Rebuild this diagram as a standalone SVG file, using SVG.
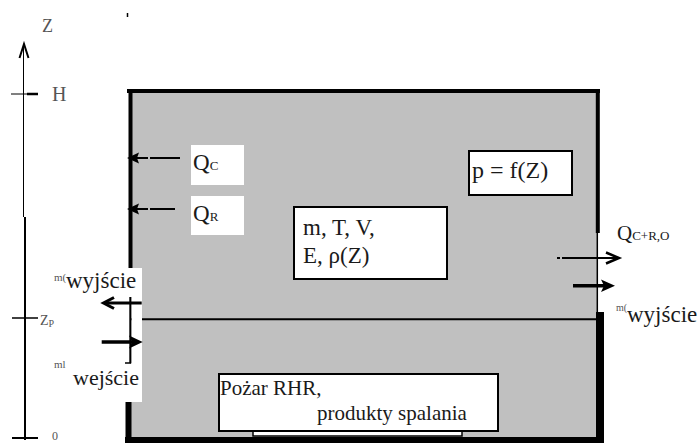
<svg xmlns="http://www.w3.org/2000/svg" width="699" height="443" viewBox="0 0 699 443">
<style>
.t{font-family:"Liberation Serif","Times New Roman",serif;fill:#1a1a1a}
.g{fill:#555}
.w{stroke:#000;fill:none}
.box{fill:#fff;stroke:#000;stroke-width:2}
</style>
<rect width="699" height="443" fill="#fff"/>
<g id="room">
<rect x="130" y="91" width="468" height="348" fill="#c0c0c0"/>
<line class="w" x1="127" y1="91" x2="600" y2="91" stroke-width="4"/>
<line class="w" x1="130.5" y1="89" x2="130.5" y2="268" stroke-width="4"/>
<line class="w" x1="125" y1="363" x2="131" y2="363" stroke-width="1.5"/>
<line class="w" x1="128.5" y1="402" x2="128.5" y2="443" stroke-width="6"/>
<line class="w" x1="125" y1="440" x2="604" y2="440" stroke-width="6"/>
<line class="w" x1="597.8" y1="89" x2="597.8" y2="233" stroke-width="4"/>
<line class="w" x1="597.3" y1="233" x2="597.3" y2="312" stroke-width="1.5"/>
<line class="w" x1="600" y1="312" x2="600" y2="443" stroke-width="8"/>
<line class="w" x1="130" y1="319.3" x2="597" y2="319.3" stroke-width="2"/>
<rect x="253" y="431" width="209" height="5" fill="#fff" stroke="#000" stroke-width="1.5"/>
</g>
<g id="axis">
<line class="w" x1="23.5" y1="45" x2="23.5" y2="217" stroke-width="1"/>
<line class="w" x1="25" y1="217" x2="25" y2="440" stroke-width="2"/>
<polyline class="w" points="19.5,58 24,44 28.5,58" stroke-width="2"/>
<line class="w" x1="11" y1="94" x2="27" y2="94" stroke-width="1"/>
<line class="w" x1="27" y1="94" x2="38" y2="94" stroke-width="2.5"/>
<line class="w" x1="12" y1="318" x2="38" y2="318" stroke-width="1.5"/>
<line class="w" x1="12" y1="438" x2="38" y2="438" stroke-width="2"/>
<line class="w" x1="127.5" y1="13" x2="127.5" y2="17" stroke-width="1.5"/>
<text class="t g" x="42" y="32" font-size="18">Z</text>
<text class="t g" x="52" y="101" font-size="20">H</text>
<text class="t g" x="40" y="325" font-size="14">Z<tspan font-size="10" dy="2">P</tspan></text>
<text class="t g" x="52" y="440" font-size="12">0</text>
</g>
<g id="label-m-out-left">
<rect x="52" y="268" width="90" height="29" fill="#fff"/>
<text class="t g" x="54" y="281" font-size="11">m(</text>
<text class="t" x="66" y="288" font-size="23">wyjście</text>
</g>
<g id="label-m-in-left">
<rect x="52" y="364" width="90" height="38" fill="#fff"/>
<text class="t g" x="54" y="368" font-size="11">ml</text>
<text class="t" x="73" y="385" font-size="22">wejście</text>
</g>
<rect x="131.5" y="297" width="10.5" height="67" fill="#fff"/>
<line class="w" x1="130.3" y1="297" x2="130.3" y2="363" stroke-width="2"/>
<g id="qc">
<rect x="191" y="145" width="53" height="40" fill="#fff"/>
<text class="t" x="193" y="170" font-size="23">Q<tspan font-size="13">C</tspan></text>
</g>
<g id="qr">
<rect x="191" y="196" width="53" height="39" fill="#fff"/>
<text class="t" x="193" y="221" font-size="23">Q<tspan font-size="13">R</tspan></text>
</g>
<g id="pfz">
<rect class="box" x="469" y="151" width="103" height="44"/>
<text class="t" x="472" y="178" font-size="24">p = f(Z)</text>
</g>
<g id="state">
<rect class="box" x="294" y="207" width="153" height="72"/>
<text class="t" x="303" y="235" font-size="23">m, T, V,</text>
<text class="t" x="303" y="263" font-size="23">E, ρ(Z)</text>
</g>
<g id="fire">
<rect class="box" x="219" y="374" width="279" height="57"/>
<text class="t" x="220" y="395" font-size="21">Pożar RHR,</text>
<text class="t" x="317" y="420" font-size="21">produkty spalania</text>
</g>
<g id="qcro">
<text class="t" x="617" y="240" font-size="21">Q<tspan font-size="13">C+R,O</tspan></text>
</g>
<g id="label-m-out-right">
<text class="t g" x="616" y="311" font-size="10">m(</text>
<text class="t" x="627" y="322" font-size="23">wyjście</text>
</g>
<g id="connectors">
<line class="w" x1="180" y1="158" x2="150" y2="158" stroke-width="2"/>
<line class="w" x1="148" y1="158" x2="136" y2="158" stroke-width="2"/>
<polygon points="127,158 139,152.5 137,158 139,163.5" fill="#000"/>
<line class="w" x1="175" y1="209" x2="150" y2="209" stroke-width="2"/>
<line class="w" x1="148" y1="209" x2="136" y2="209" stroke-width="2"/>
<polygon points="127,209 139,203.5 137,209 139,214.5" fill="#000"/>
<line class="w" x1="557" y1="258" x2="560" y2="258" stroke-width="2"/>
<line class="w" x1="562" y1="258" x2="618" y2="258" stroke-width="2"/>
<polyline class="w" points="606,252.5 619,258 606,263.5" stroke-width="2.5"/>
<line class="w" x1="573" y1="285.7" x2="606" y2="285.7" stroke-width="3.5"/>
<polygon points="615,285.7 601,279.5 604,285.7 601,292" fill="#000"/>
<line class="w" x1="141.7" y1="303" x2="105" y2="303" stroke-width="3"/>
<polyline class="w" points="114,297.5 103.5,303 114,308.5" stroke-width="3"/>
<line class="w" x1="101.7" y1="342" x2="134" y2="342" stroke-width="3.5"/>
<polygon points="142.7,342 129,335.5 132,342 129,348.5" fill="#000"/>
</g>
</svg>
